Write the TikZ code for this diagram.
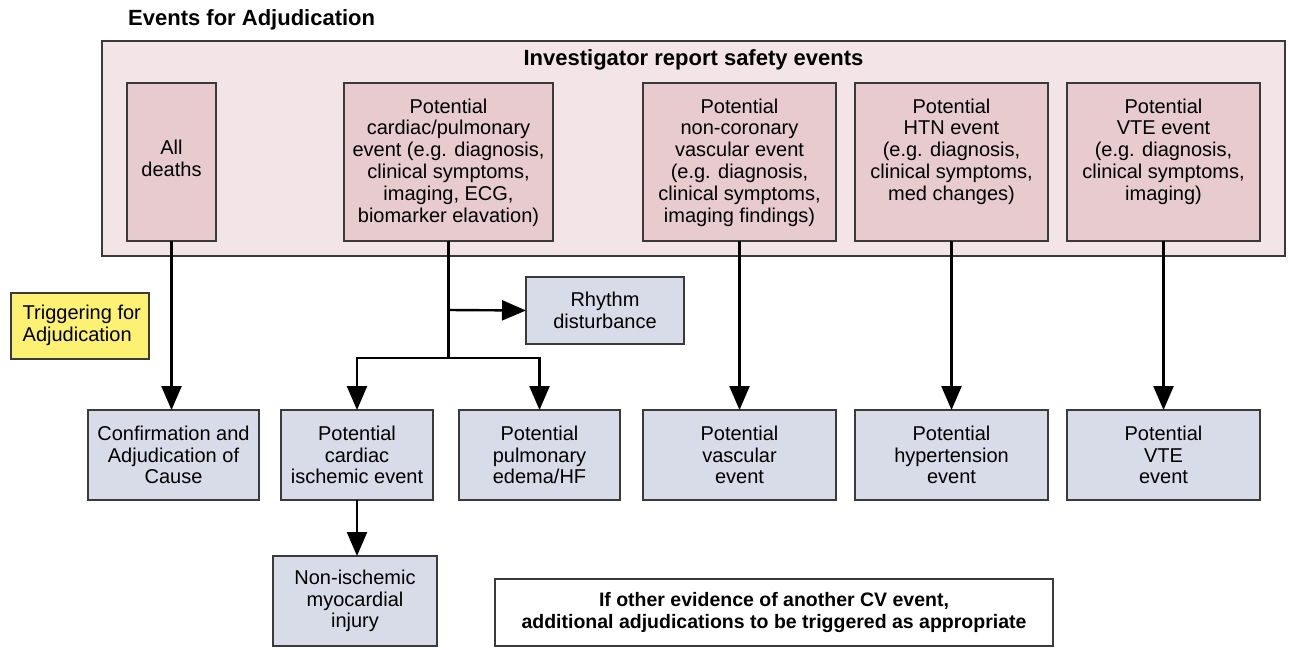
\documentclass[tikz,border=0pt]{standalone}
\usepackage{fontspec}
\setmainfont{Liberation Sans}
\usetikzlibrary{arrows.meta}
\definecolor{outerpink}{HTML}{F3E5E7}
\definecolor{innerpink}{HTML}{E7CBCE}
\definecolor{bluebox}{HTML}{D7DCE8}
\definecolor{trigyellow}{HTML}{FCF173}
\definecolor{edge}{HTML}{3A3A3A}
\tikzset{bigtip/.tip={Triangle[length=24pt,width=20pt]}}
\begin{document}
\begin{tikzpicture}[x=1pt,y=-1pt,
  base/.style={draw=edge,line width=1.2pt,inner sep=0pt,outer sep=0pt,align=center,
    font=\fontsize{20}{21.8}\selectfont},
  pinkbox/.style={base,fill=innerpink,minimum height=158pt},
  bluenode/.style={base,fill=bluebox,minimum height=90pt},
  txt/.style={align=center,inner sep=0pt,font=\fontsize{20}{21.8}\selectfont},
  arr/.style={line width=2.4pt,-bigtip},
  ln/.style={line width=2.4pt}]
\useasboundingbox (0,0) rectangle (1290,650);
\node[anchor=west,font=\bfseries\fontsize{22}{24}\selectfont,inner sep=0pt] (title) at (128,20) {Events for Adjudication};
\node[base,fill=outerpink,minimum width=1183pt,minimum height=215pt] (outer) at (693.5,148.5) {};
\node[txt,font=\bfseries\fontsize{22}{24}\selectfont] (invest) at (693.5,60) {Investigator report safety events};
% pink boxes
\node[pinkbox,minimum width=89pt] (deaths) at (171.5,162) {};
\node[txt] (deathst) at (171.5,158) {All\\deaths};
\node[pinkbox,minimum width=209pt] (cardpul) at (448.5,162) {};
\node[txt,anchor=north] (cardpult) at (448.5,98.5) {Potential\\cardiac/pulmonary\\event (e.g. diagnosis,\\clinical symptoms,\\imaging, ECG,\\biomarker elavation)};
\node[pinkbox,minimum width=193pt] (noncor) at (739.5,162) {};
\node[txt,anchor=north] (noncort) at (739.5,98.5) {Potential\\non-coronary\\vascular event\\(e.g. diagnosis,\\clinical symptoms,\\imaging findings)};
\node[pinkbox,minimum width=193pt] (htn) at (951.5,162) {};
\node[txt,anchor=north] (htnt) at (951.5,98.5) {Potential\\HTN event\\(e.g. diagnosis,\\clinical symptoms,\\med changes)};
\node[pinkbox,minimum width=193pt] (vte) at (1163.5,162) {};
\node[txt,anchor=north] (vtet) at (1163.5,98.5) {Potential\\VTE event\\(e.g. diagnosis,\\clinical symptoms,\\imaging)};
% trigger
\node[base,fill=trigyellow,minimum width=138pt,minimum height=66pt] (trig) at (80,326) {};
\node[txt,align=left,anchor=west] (trigt) at (22.5,325) {Triggering for\\Adjudication};
% rhythm
\node[bluenode,minimum width=158pt,minimum height=67pt] (rhythm) at (605,310.5) {Rhythm\\disturbance};
% bottom boxes
\node[bluenode,minimum width=171pt] (confirm) at (173.5,455) {Confirmation and\\Adjudication of\\Cause};
\node[bluenode,minimum width=152pt] (isch) at (357,455) {Potential\\cardiac\\ischemic event};
\node[bluenode,minimum width=161pt] (pulm) at (539.5,455) {Potential\\pulmonary\\edema/HF};
\node[bluenode,minimum width=193pt] (vasc) at (739.5,455) {Potential\\vascular\\event};
\node[bluenode,minimum width=193pt] (hyper) at (951.5,455) {Potential\\hypertension\\event};
\node[bluenode,minimum width=193pt] (vtee) at (1163.5,455) {Potential\\VTE\\event};
\node[bluenode,minimum width=164pt] (noni) at (355,601) {Non-ischemic\\myocardial\\injury};
\node[base,fill=white,minimum width=558pt,minimum height=67pt,font=\bfseries\fontsize{19.5}{21.5}\selectfont] (note) at (774,612.5) {If other evidence of another CV event,\\additional adjudications to be triggered as appropriate};
% connectors
\coordinate (j1) at (448.5,310);
\coordinate (j2) at (448.5,358);
\coordinate (jl) at (357,358);
\coordinate (jr) at (539.5,358);
\draw[arr] (deaths.south) -- (deaths.south |- confirm.north);
\draw[ln] (cardpul.south) -- (j2);
\draw[arr] (j1) -- (rhythm.west);
\draw[ln,line cap=rect] (jl) -- (jr);
\draw[arr] (jl) -- (isch.north);
\draw[arr] (jr) -- (pulm.north);
\draw[arr] (noncor.south) -- (vasc.north);
\draw[arr] (htn.south) -- (hyper.north);
\draw[arr] (vte.south) -- (vtee.north);
\draw[arr] (isch.south) -- (isch.south |- noni.north);
\end{tikzpicture}
\end{document}
